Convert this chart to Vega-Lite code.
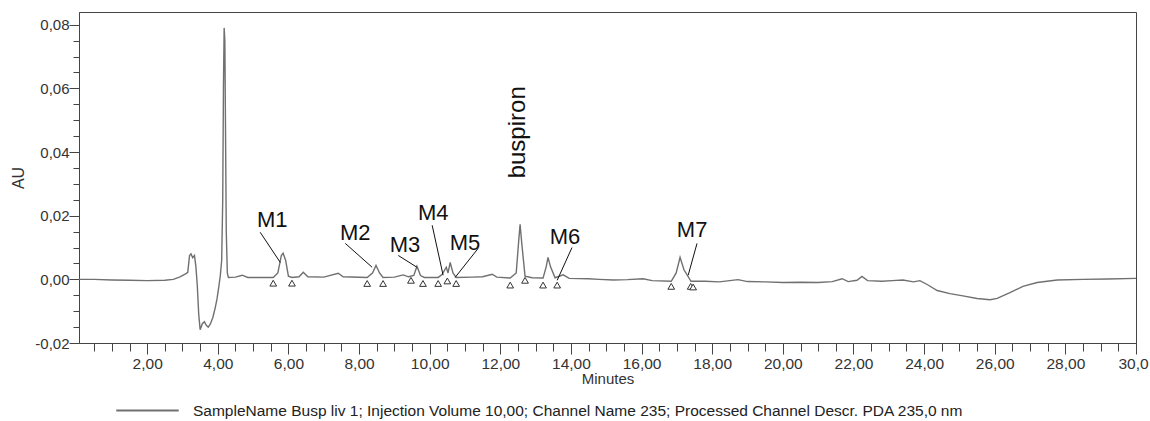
{
  "$schema": "https://vega.github.io/schema/vega-lite/v6.json",
  "autosize": {"type": "none"},
  "width": 1057,
  "height": 331,
  "padding": {"left": 79, "top": 12, "right": 14, "bottom": 78},
  "background": "white",
  "config": {
    "view": {"stroke": "#444", "strokeWidth": 1},
    "font": "Liberation Sans"
  },
  "datasets": {
    "trace": [
      {"t": 0.07, "v": 0.0}, {"t": 0.5, "v": 0.0}, {"t": 1.0, "v": -0.0002}, {"t": 1.5, "v": -0.0003},
      {"t": 2.0, "v": -0.0004}, {"t": 2.5, "v": -0.0003}, {"t": 2.74, "v": 0.0}, {"t": 2.93, "v": 0.0008},
      {"t": 3.1, "v": 0.0018}, {"t": 3.15, "v": 0.0022}, {"t": 3.2, "v": 0.0075}, {"t": 3.24, "v": 0.008},
      {"t": 3.29, "v": 0.0068}, {"t": 3.34, "v": 0.0075}, {"t": 3.38, "v": 0.004}, {"t": 3.42, "v": -0.002},
      {"t": 3.46, "v": -0.011}, {"t": 3.5, "v": -0.0158}, {"t": 3.56, "v": -0.014}, {"t": 3.62, "v": -0.0133},
      {"t": 3.68, "v": -0.0145}, {"t": 3.73, "v": -0.015}, {"t": 3.79, "v": -0.014}, {"t": 3.86, "v": -0.012},
      {"t": 3.93, "v": -0.0088}, {"t": 3.98, "v": -0.006}, {"t": 4.02, "v": -0.003}, {"t": 4.07, "v": 0.001},
      {"t": 4.11, "v": 0.006}, {"t": 4.14, "v": 0.025}, {"t": 4.16, "v": 0.06}, {"t": 4.18, "v": 0.079},
      {"t": 4.2, "v": 0.075}, {"t": 4.22, "v": 0.045}, {"t": 4.24, "v": 0.015}, {"t": 4.27, "v": 0.002},
      {"t": 4.3, "v": 0.0006}, {"t": 4.5, "v": 0.0007}, {"t": 4.69, "v": 0.0013}, {"t": 4.85, "v": 0.0006},
      {"t": 5.2, "v": 0.0006}, {"t": 5.57, "v": 0.0006}, {"t": 5.7, "v": 0.002}, {"t": 5.8, "v": 0.0075},
      {"t": 5.85, "v": 0.0082}, {"t": 5.92, "v": 0.006}, {"t": 6.0, "v": 0.001}, {"t": 6.1, "v": 0.0006},
      {"t": 6.3, "v": 0.0008}, {"t": 6.42, "v": 0.0022}, {"t": 6.55, "v": 0.0008}, {"t": 7.0, "v": 0.0007},
      {"t": 7.41, "v": 0.0019}, {"t": 7.55, "v": 0.0008}, {"t": 8.23, "v": 0.0006}, {"t": 8.38, "v": 0.002},
      {"t": 8.48, "v": 0.0044}, {"t": 8.58, "v": 0.002}, {"t": 8.68, "v": 0.0006}, {"t": 9.0, "v": 0.0007},
      {"t": 9.25, "v": 0.0014}, {"t": 9.4, "v": 0.0008}, {"t": 9.55, "v": 0.0012}, {"t": 9.64, "v": 0.0041},
      {"t": 9.74, "v": 0.0012}, {"t": 9.85, "v": 0.0006}, {"t": 10.24, "v": 0.0006}, {"t": 10.35, "v": 0.0015},
      {"t": 10.47, "v": 0.0038}, {"t": 10.52, "v": 0.002}, {"t": 10.58, "v": 0.0053}, {"t": 10.66, "v": 0.002},
      {"t": 10.75, "v": 0.0006}, {"t": 11.2, "v": 0.0007}, {"t": 11.5, "v": 0.0008}, {"t": 11.77, "v": 0.0016},
      {"t": 11.9, "v": 0.0007}, {"t": 12.28, "v": 0.0004}, {"t": 12.45, "v": 0.002}, {"t": 12.52, "v": 0.012},
      {"t": 12.56, "v": 0.0173}, {"t": 12.61, "v": 0.011}, {"t": 12.7, "v": 0.001}, {"t": 12.9, "v": 0.0005},
      {"t": 13.21, "v": 0.0004}, {"t": 13.3, "v": 0.004}, {"t": 13.35, "v": 0.0069}, {"t": 13.42, "v": 0.004},
      {"t": 13.55, "v": 0.0005}, {"t": 13.78, "v": 0.0014}, {"t": 13.95, "v": 0.0003}, {"t": 14.49, "v": 0.0002},
      {"t": 14.8, "v": 0.0}, {"t": 15.2, "v": -0.0002}, {"t": 15.6, "v": -0.0001}, {"t": 16.04, "v": 0.0002},
      {"t": 16.3, "v": -0.0004}, {"t": 16.84, "v": -0.0006}, {"t": 16.98, "v": 0.002}, {"t": 17.09, "v": 0.0069},
      {"t": 17.2, "v": 0.003}, {"t": 17.4, "v": -0.0006}, {"t": 17.8, "v": -0.0006}, {"t": 18.2, "v": -0.0008},
      {"t": 18.73, "v": -0.0001}, {"t": 19.0, "v": -0.0007}, {"t": 19.5, "v": -0.0008}, {"t": 20.0, "v": -0.001},
      {"t": 20.5, "v": -0.0009}, {"t": 21.0, "v": -0.001}, {"t": 21.4, "v": -0.0007}, {"t": 21.68, "v": 0.0002},
      {"t": 21.85, "v": -0.0007}, {"t": 22.1, "v": -0.0003}, {"t": 22.24, "v": 0.0009}, {"t": 22.4, "v": -0.0004},
      {"t": 22.8, "v": -0.0006}, {"t": 23.1, "v": -0.0004}, {"t": 23.4, "v": -0.0002}, {"t": 23.7, "v": -0.0008},
      {"t": 23.88, "v": -0.0004}, {"t": 24.1, "v": -0.0017}, {"t": 24.37, "v": -0.0035}, {"t": 24.73, "v": -0.0045},
      {"t": 25.1, "v": -0.0052}, {"t": 25.5, "v": -0.006}, {"t": 25.87, "v": -0.0064}, {"t": 26.07, "v": -0.006},
      {"t": 26.43, "v": -0.0042}, {"t": 26.8, "v": -0.0022}, {"t": 27.2, "v": -0.001}, {"t": 27.77, "v": -0.0002},
      {"t": 28.5, "v": 0.0}, {"t": 29.2, "v": 0.0001}, {"t": 30.0, "v": 0.0003}
    ],
    "marks": [
      {"t": 5.57, "v": -0.0012}, {"t": 6.1, "v": -0.0012}, {"t": 8.23, "v": -0.0013}, {"t": 8.68, "v": -0.0013},
      {"t": 9.47, "v": -0.0003}, {"t": 9.81, "v": -0.0013}, {"t": 10.24, "v": -0.0013}, {"t": 10.5, "v": -0.0005},
      {"t": 10.75, "v": -0.0013}, {"t": 12.28, "v": -0.0018}, {"t": 12.7, "v": -0.0003}, {"t": 13.21, "v": -0.0018},
      {"t": 13.61, "v": -0.0018}, {"t": 16.84, "v": -0.0022}, {"t": 17.39, "v": -0.0022}, {"t": 17.46, "v": -0.0024}
    ],
    "labels": [
      {"label": "M1", "t": 5.54, "v": 0.0186}, {"label": "M2", "t": 7.89, "v": 0.0145},
      {"label": "M3", "t": 9.3, "v": 0.0107}, {"label": "M4", "t": 10.1, "v": 0.0208},
      {"label": "M5", "t": 11.0, "v": 0.0113}, {"label": "M6", "t": 13.83, "v": 0.0132},
      {"label": "M7", "t": 17.43, "v": 0.0154}
    ],
    "leaders": [
      {"t": 5.2, "v": 0.0148, "t2": 5.77, "v2": 0.0053},
      {"t": 7.61, "v": 0.0113, "t2": 8.37, "v2": 0.0038},
      {"t": 9.11, "v": 0.0075, "t2": 9.64, "v2": 0.0038},
      {"t": 10.07, "v": 0.017, "t2": 10.38, "v2": 0.0013},
      {"t": 11.37, "v": 0.0097, "t2": 10.72, "v2": 0.0006},
      {"t": 14.03, "v": 0.01, "t2": 13.61, "v2": -0.0003},
      {"t": 17.57, "v": 0.0113, "t2": 17.32, "v2": 0.0013}
    ],
    "compound": [{"label": "buspiron", "t": 12.5, "v": 0.0462}]
  },
  "layer": [
    {
      "data": {"name": "trace"},
      "transform": [{"calculate": "'SampleName Busp liv 1; Injection Volume 10,00; Channel Name 235; Processed Channel Descr. PDA 235,0 nm'", "as": "series"}],
      "mark": {"type": "line", "strokeWidth": 1.4, "interpolate": "linear"},
      "encoding": {
        "x": {
          "field": "t", "type": "quantitative",
          "scale": {"domain": [0.07, 30], "nice": false, "zero": false},
          "axis": {
            "title": "Minutes", "titleFontSize": 15, "titleFontWeight": "normal", "titleColor": "#333", "titlePadding": 0,
            "tickCount": 200,
            "values": [0.5,1,1.5,2,2.5,3,3.5,4,4.5,5,5.5,6,6.5,7,7.5,8,8.5,9,9.5,10,10.5,11,11.5,12,12.5,13,13.5,14,14.5,15,15.5,16,16.5,17,17.5,18,18.5,19,19.5,20,20.5,21,21.5,22,22.5,23,23.5,24,24.5,25,25.5,26,26.5,27,27.5,28,28.5,29,29.5,30],
            "labelExpr": "datum.value >= 29.9 ? '30,0' : (abs(datum.value - round(datum.value / 2) * 2) < 0.01 ? replace(format(datum.value, '.2f'), '.', ',') : '')",
            "labelOffset": {"condition": {"test": "datum.value >= 29.9", "value": -3}, "value": 0},
            "labelOverlap": false, "labelFlush": false, "labelFontSize": 15.5, "labelColor": "#333", "labelPadding": 2,
            "grid": false, "domainColor": "#444", "tickColor": "#444",
            "tickSize": {"condition": {"test": "abs(datum.value - round(datum.value / 2) * 2) < 0.01", "value": 11}, "value": 8}
          }
        },
        "y": {
          "field": "v", "type": "quantitative",
          "scale": {"domain": [-0.02, 0.084], "nice": false, "zero": false},
          "axis": {
            "title": "AU", "titleFontSize": 16, "titleFontWeight": "normal", "titleColor": "#333", "titlePadding": 8,
            "tickCount": 200,
            "values": [-0.02,-0.015,-0.01,-0.005,0,0.005,0.01,0.015,0.02,0.025,0.03,0.035,0.04,0.045,0.05,0.055,0.06,0.065,0.07,0.075,0.08],
            "labelExpr": "abs(datum.value * 50 - round(datum.value * 50)) < 0.01 ? replace(replace(format(datum.value, '.2f'), '.', ','), '\u2212', '-') : ''",
            "labelOverlap": false, "labelFlush": false, "labelFontSize": 15, "labelColor": "#333", "labelPadding": 0,
            "grid": false, "domainColor": "#444", "tickColor": "#444",
            "tickSize": {"condition": {"test": "abs(datum.value * 50 - round(datum.value * 50)) < 0.01", "value": 10}, "value": 6}
          }
        },
        "color": {
          "field": "series", "type": "nominal",
          "scale": {"range": ["#707070"]},
          "legend": {
            "title": null, "orient": "none", "legendX": 36, "legendY": 366,
            "symbolType": "stroke", "symbolSize": 3900, "symbolStrokeWidth": 2,
            "labelFontSize": 15.5, "labelColor": "#222", "labelLimit": 1000, "labelOffset": 13
          }
        }
      }
    },
    {
      "data": {"name": "leaders"},
      "mark": {"type": "rule", "color": "#111", "strokeWidth": 1},
      "encoding": {
        "x": {"field": "t", "type": "quantitative"},
        "y": {"field": "v", "type": "quantitative"},
        "x2": {"field": "t2"},
        "y2": {"field": "v2"}
      }
    },
    {
      "data": {"name": "marks"},
      "mark": {"type": "point", "shape": "triangle-up", "size": 45, "filled": false, "fill": "white", "fillOpacity": 1, "stroke": "#333", "strokeWidth": 1, "opacity": 1},
      "encoding": {
        "x": {"field": "t", "type": "quantitative"},
        "y": {"field": "v", "type": "quantitative"}
      }
    },
    {
      "data": {"name": "labels"},
      "mark": {"type": "text", "fontSize": 22, "color": "#111", "align": "center", "baseline": "middle"},
      "encoding": {
        "x": {"field": "t", "type": "quantitative"},
        "y": {"field": "v", "type": "quantitative"},
        "text": {"field": "label"}
      }
    },
    {
      "data": {"name": "compound"},
      "mark": {"type": "text", "fontSize": 24, "angle": 270, "color": "#111", "align": "center", "baseline": "middle"},
      "encoding": {
        "x": {"field": "t", "type": "quantitative"},
        "y": {"field": "v", "type": "quantitative"},
        "text": {"field": "label"}
      }
    }
  ]
}
